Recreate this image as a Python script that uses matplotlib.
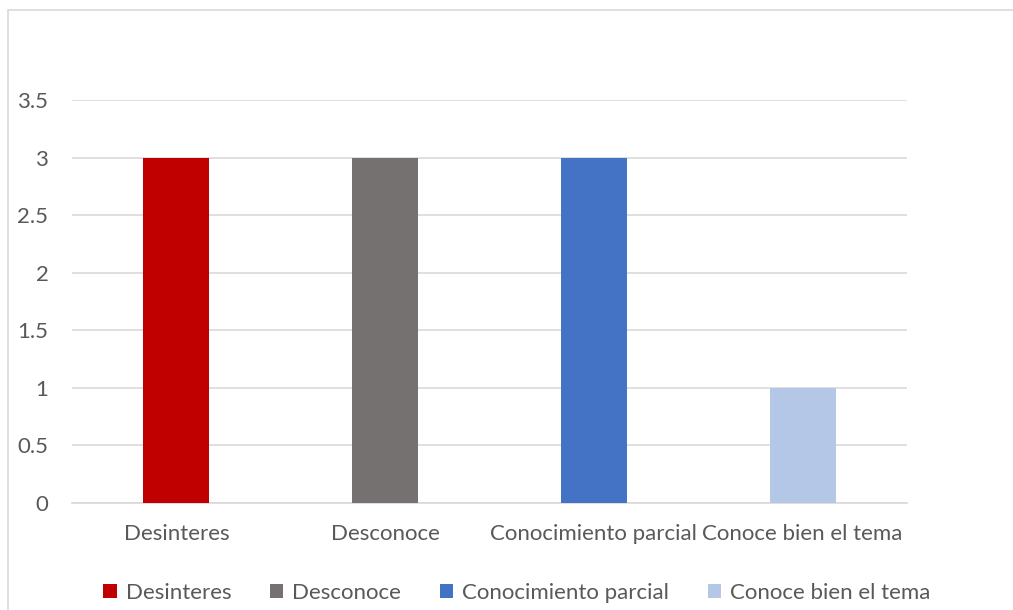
import numpy as np
import matplotlib
matplotlib.use("Agg")
import matplotlib.pyplot as plt
from matplotlib.patches import Rectangle

categories = ["Desinteres", "Desconoce", "Conocimiento parcial", "Conoce bien el tema"]
values = [3, 3, 3, 1]
colors = ["#C00000", "#767171", "#4472C4", "#B4C7E7"]
yticks = [0, 0.5, 1, 1.5, 2, 2.5, 3, 3.5]
ytick_labels = ["0", "0.5", "1", "1.5", "2", "2.5", "3", "3.5"]

plt.rcParams['font.family'] = ['Lato', 'DejaVu Sans']
text_color = "#595959"

fig = plt.figure(figsize=(10.13, 6.10), dpi=100)
# chart frame
fig.patches.append(Rectangle((8/1013, -0.05), 1.1, 1 - 10/610 + 0.05,
                             transform=fig.transFigure, fill=False,
                             edgecolor="#d9d9d9", linewidth=1.2))

ax = fig.add_axes([72/1013, 107/610, 835/1013, 403/610])
x = np.arange(len(categories))
bars = ax.bar(x, values, width=0.316, color=colors, zorder=3)

ax.set_xlim(-0.5, len(categories) - 0.5)
ax.set_ylim(0, 3.5)
ax.set_yticks(yticks)
ax.set_yticklabels(ytick_labels)
ax.set_xticks(x)
ax.set_xticklabels(categories)
ax.yaxis.grid(True, color="#d9d9d9", linewidth=1.2, zorder=0)
for s in ["top", "right", "left"]:
    ax.spines[s].set_visible(False)
ax.spines["bottom"].set_color("#d9d9d9")
ax.spines["bottom"].set_linewidth(1.2)
ax.tick_params(axis="both", length=0, labelsize=16, colors=text_color)
ax.tick_params(axis="x", pad=15)
ax.tick_params(axis="y", pad=17)

leg = fig.legend(bars, categories, loc="center", bbox_to_anchor=(517/1013, 1 - 593/610),
                 ncol=4, frameon=False, fontsize=16, handlelength=0.6, handleheight=0.6,
                 handletextpad=0.4, columnspacing=1.75, labelcolor=text_color)

fig.savefig("out.png", dpi=100)
